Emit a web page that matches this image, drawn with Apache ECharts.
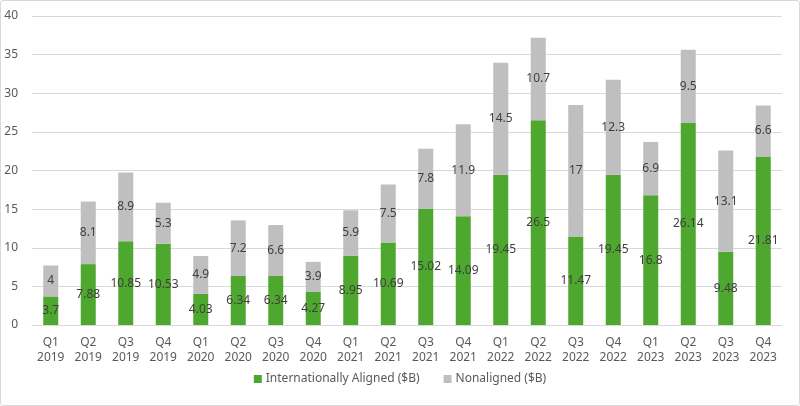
<!DOCTYPE html>
<html><head><meta charset="utf-8">
<script src="https://cdn.jsdelivr.net/npm/echarts@6/dist/echarts.min.js"></script>
<style>html,body{margin:0;padding:0;background:#fff}#c{width:798px;height:404px;border:1px solid #d9d9d9;border-radius:3px}</style>
</head><body><div id="c"></div>
<script>
const categories = ['Q1\n2019','Q2\n2019','Q3\n2019','Q4\n2019','Q1\n2020','Q2\n2020','Q3\n2020','Q4\n2020','Q1\n2021','Q2\n2021','Q3\n2021','Q4\n2021','Q1\n2022','Q2\n2022','Q3\n2022','Q4\n2022','Q1\n2023','Q2\n2023','Q3\n2023','Q4\n2023'];
const aligned = [3.7,7.88,10.85,10.53,4.03,6.34,6.34,4.27,8.95,10.69,15.02,14.09,19.45,26.5,11.47,19.45,16.8,26.14,9.48,21.81];
const nonaligned = [4,8.1,8.9,5.3,4.9,7.2,6.6,3.9,5.9,7.5,7.8,11.9,14.5,10.7,17,12.3,6.9,9.5,13.1,6.6];
const font = '"Noto Sans", sans-serif';
const chart = echarts.init(document.getElementById('c'), null, {renderer:'canvas'});
const lbl = {show:true, position:'inside', color:'#404040', fontSize:12, fontFamily:font};
chart.setOption({
  animation:false,
  textStyle:{fontFamily:font},
  grid:{left:31, right:17, top:15, bottom:80},
  legend:{bottom:15, left:'center', itemWidth:8, itemHeight:8, itemGap:24, icon:'rect',
    textStyle:{color:'#595959', fontSize:12, fontFamily:font, padding:[0,0,0,-1]},
    data:['Internationally Aligned ($B)','Nonaligned ($B)']},
  xAxis:{type:'category', data:categories,
    axisLine:{lineStyle:{color:'#d9d9d9'}}, axisTick:{show:false},
    axisLabel:{color:'#595959', fontSize:12, lineHeight:15, margin:10, interval:0, fontFamily:font}},
  yAxis:{type:'value', min:0, max:40, interval:5,
    axisLabel:{color:'#595959', fontSize:12, margin:14, fontFamily:font},
    splitLine:{lineStyle:{color:'#d9d9d9'}}, axisLine:{show:false}, axisTick:{show:false}},
  series:[
    {name:'Internationally Aligned ($B)', type:'bar', stack:'t', data:aligned, barWidth:'40%',
     itemStyle:{color:'#4EA72E'}, label:lbl},
    {name:'Nonaligned ($B)', type:'bar', stack:'t', data:nonaligned, barWidth:'40%',
     itemStyle:{color:'#BFBFBF'}, label:lbl}
  ]
});
</script></body></html>
